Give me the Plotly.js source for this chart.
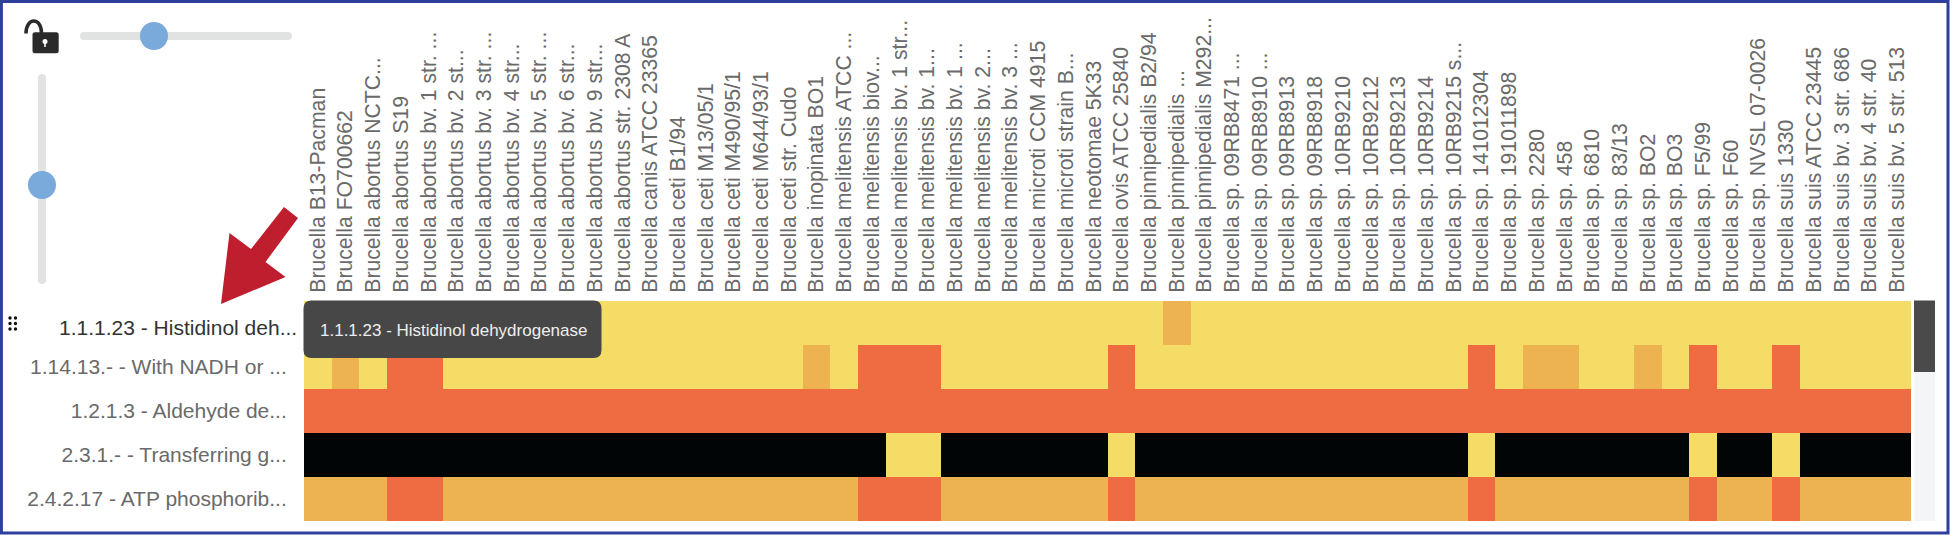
<!DOCTYPE html>
<html><head><meta charset="utf-8">
<script src="https://cdn.plot.ly/plotly-3.0.1.min.js"></script>
<style>html,body{margin:0;padding:0;background:#fff;overflow:hidden}</style>
</head><body><div id="chart" style="width:1958px;height:541px"></div>
<script>
const xLabels = ["Brucella B13-Pacman","Brucella FO700662","Brucella abortus NCTC...","Brucella abortus S19","Brucella abortus bv. 1 str. ...","Brucella abortus bv. 2 st...","Brucella abortus bv. 3 str. ...","Brucella abortus bv. 4 str...","Brucella abortus bv. 5 str. ...","Brucella abortus bv. 6 str...","Brucella abortus bv. 9 str...","Brucella abortus str. 2308 A","Brucella canis ATCC 23365","Brucella ceti B1/94","Brucella ceti M13/05/1","Brucella ceti M490/95/1","Brucella ceti M644/93/1","Brucella ceti str. Cudo","Brucella inopinata BO1","Brucella melitensis ATCC ...","Brucella melitensis biov...","Brucella melitensis bv. 1 str...","Brucella melitensis bv. 1...","Brucella melitensis bv. 1 ...","Brucella melitensis bv. 2...","Brucella melitensis bv. 3 ...","Brucella microti CCM 4915","Brucella microti strain B...","Brucella neotomae 5K33","Brucella ovis ATCC 25840","Brucella pinnipedialis B2/94","Brucella pinnipedialis ...","Brucella pinnipedialis M292...","Brucella sp. 09RB8471 ...","Brucella sp. 09RB8910 ...","Brucella sp. 09RB8913","Brucella sp. 09RB8918","Brucella sp. 10RB9210","Brucella sp. 10RB9212","Brucella sp. 10RB9213","Brucella sp. 10RB9214","Brucella sp. 10RB9215 s...","Brucella sp. 141012304","Brucella sp. 191011898","Brucella sp. 2280","Brucella sp. 458","Brucella sp. 6810","Brucella sp. 83/13","Brucella sp. BO2","Brucella sp. BO3","Brucella sp. F5/99","Brucella sp. F60","Brucella sp. NVSL 07-0026","Brucella suis 1330","Brucella suis ATCC 23445","Brucella suis bv. 3 str. 686","Brucella suis bv. 4 str. 40","Brucella suis bv. 5 str. 513"];
const yLabels = ["1.1.1.23 - Histidinol deh...","1.14.13.- - With NADH or ...","1.2.1.3 - Aldehyde de...","2.3.1.- - Transferring g...","2.4.2.17 - ATP phosphorib..."];
const tooltipText = "1.1.1.23 - Histidinol dehydrogenase";
const row1 = [1,1,1,1,1,1,1,1,1,1,1,1,1,1,1,1,1,1,1,1,1,1,1,1,1,1,1,1,1,1,1,2,1,1,1,1,1,1,1,1,1,1,1,1,1,1,1,1,1,1,1,1,1,1,1,1,1,1];
const row2 = [1,2,1,3,3,1,1,1,1,1,1,1,1,1,1,1,1,1,2,1,3,3,3,1,1,1,1,1,1,3,1,1,1,1,1,1,1,1,1,1,1,1,3,1,2,2,1,1,2,1,3,1,1,3,1,1,1,1];
const row3 = [3,3,3,3,3,3,3,3,3,3,3,3,3,3,3,3,3,3,3,3,3,3,3,3,3,3,3,3,3,3,3,3,3,3,3,3,3,3,3,3,3,3,3,3,3,3,3,3,3,3,3,3,3,3,3,3,3,3];
const row4 = [0,0,0,0,0,0,0,0,0,0,0,0,0,0,0,0,0,0,0,0,0,1,1,0,0,0,0,0,0,1,0,0,0,0,0,0,0,0,0,0,0,0,1,0,0,0,0,0,0,0,1,0,0,1,0,0,0,0];
const row5 = [2,2,2,3,3,2,2,2,2,2,2,2,2,2,2,2,2,2,2,2,3,3,3,2,2,2,2,2,2,3,2,2,2,2,2,2,2,2,2,2,2,2,3,2,2,2,2,2,2,2,3,2,2,3,2,2,2,2];
const zRows = [row1,row2,row3,row4,row5];
const cellColors = ["#020506","#F4DC66","#EDB350","#EF6C42"];

const W=1958,H=541,L=304,R=1911,T=301,B=521;
const fx=p=>(p-L)/(R-L), fy=p=>(B-p)/(B-T);
const P=(x,y)=>fx(x)+","+fy(y);
const poly=(pts,fill)=>({type:"path",xref:"paper",yref:"paper",layer:"above",fillcolor:fill,line:{width:0},
  path:"M"+pts.map(q=>P(q[0],q[1])).join(" L")+" Z"});
const rrect=(x0,y0,x1,y1,r,fill)=>({type:"path",xref:"paper",yref:"paper",layer:"above",fillcolor:fill,line:{width:0},
  path:`M${P(x0+r,y0)} L${P(x1-r,y0)} Q${P(x1,y0)} ${P(x1,y0+r)} L${P(x1,y1-r)} Q${P(x1,y1)} ${P(x1-r,y1)} L${P(x0+r,y1)} Q${P(x0,y1)} ${P(x0,y1-r)} L${P(x0,y0+r)} Q${P(x0,y0)} ${P(x0+r,y0)} Z`});
const circ=(cx,cy,r,fill)=>({type:"circle",xref:"paper",yref:"paper",layer:"above",fillcolor:fill,line:{width:0},
  x0:fx(cx-r),x1:fx(cx+r),y0:fy(cy+r),y1:fy(cy-r)});

const shapes=[
  rrect(80,32,292,40,4,"#E1E3E3"), circ(154,36,14,"#7AA9DC"),
  rrect(38,74,46,284,4,"#E1E3E3"), circ(42,185,14,"#7AA9DC"),
  rrect(32.5,32.3,58.7,53.3,2.5,"#2B2B2B"), circ(45,41.5,2.5,"#FFFFFF"), rrect(44.2,42,45.8,47,0.5,"#FFFFFF"),
  {type:"path",xref:"paper",yref:"paper",layer:"above",fillcolor:"rgba(0,0,0,0)",line:{color:"#2B2B2B",width:3.5},
    path:`M${P(26,33.5)} C${P(26,17)} ${P(41.5,17)} ${P(41.5,33)}`},
  poly([[284,207],[298,218],[265.5,262],[285.5,277],[221,304],[229.5,233],[251,249]],"#BE1E2D"),
  circ(10,318,1.7,"#111"),circ(15.5,318,1.7,"#111"),circ(10,323.5,1.7,"#111"),circ(15.5,323.5,1.7,"#111"),circ(10,329,1.7,"#111"),circ(15.5,329,1.7,"#111"),
  rrect(303.5,300.5,601.5,358,8,"#474747"),
  rrect(1914,300.5,1935,521,0,"#F4F5F7"), rrect(1914,300.5,1935,372,0,"#4A4A4A"),
  {type:"rect",xref:"paper",yref:"paper",layer:"above",fillcolor:"rgba(0,0,0,0)",line:{color:"#2E3F9E",width:3},
   x0:fx(1.4),x1:fx(1948),y0:fy(533),y1:fy(1.5)}
];

const data=[{type:"heatmap",z:zRows,x:xLabels.map((_,i)=>i),y:yLabels.map((_,i)=>i),
  zmin:0,zmax:3,showscale:false,hoverinfo:"skip",
  colorscale:[[0,cellColors[0]],[0.25,cellColors[0]],[0.25,cellColors[1]],[0.5,cellColors[1]],[0.5,cellColors[2]],[0.75,cellColors[2]],[0.75,cellColors[3]],[1,cellColors[3]]]}];

const layout={width:W,height:H,margin:{l:L,r:W-R,t:T,b:H-B,pad:0},paper_bgcolor:"#fff",plot_bgcolor:"#fff",showlegend:false,
  font:{family:"Liberation Sans, Arial, sans-serif"},
  xaxis:{side:"top",range:[-0.5,57.5],tickmode:"array",tickvals:xLabels.map((_,i)=>i),ticktext:xLabels,tickangle:-90,
    ticklen:0,showgrid:false,zeroline:false,showline:false,tickfont:{size:21.2,color:"#6A6A6A"},ticklabelstandoff:3,automargin:false},
  yaxis:{range:[4.5,-0.5],tickmode:"array",tickvals:[1,2,3,4],ticktext:yLabels.slice(1),ticklen:0,showgrid:false,zeroline:false,showline:false,
    tickfont:{size:21,color:"#6A6A6A"},ticklabelstandoff:12,automargin:false},
  shapes,
  annotations:[
    {xref:"paper",yref:"y",x:fx(299),y:0,yshift:-4,xanchor:"right",yanchor:"middle",showarrow:false,text:yLabels[0],font:{size:21,color:"#333333"}},
    {xref:"paper",yref:"paper",x:fx(318),y:fy(330),xanchor:"left",yanchor:"middle",showarrow:false,text:tooltipText,font:{size:17,color:"#EEEEEE"}}
  ]};
Plotly.newPlot("chart",data,layout,{displayModeBar:false,staticPlot:true});
</script></body></html>
